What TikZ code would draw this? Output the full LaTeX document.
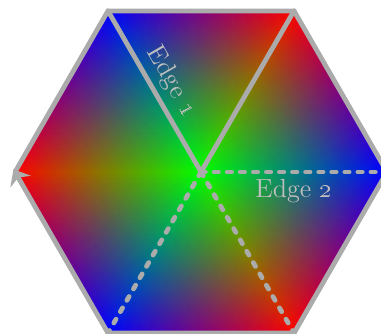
\documentclass[tikz,border=0pt]{standalone}
\usepackage{pgfplots}
\pgfplotsset{compat=1.18}
\usetikzlibrary{arrows.meta}

\begin{document}
\begin{tikzpicture}[line width=2.2pt,
    edge/.style={draw=gray!66, line cap=round},
    dashedge/.style={edge, dash pattern=on 2pt off 4pt},
    lbl/.style={text=gray!50, font=\large}]
  \useasboundingbox (-3.242,-2.597) rectangle (2.903,2.774);
  \coordinate (c) at (0,0);
  \foreach \a/\n in {0/r,60/tr,120/tl,180/l,240/bl,300/br}
    \coordinate (\n) at (\a:3);
  % colour fill, one triangle per sector
  \begin{axis}[anchor=origin, at={(0,0)}, x=1cm, y=1cm, hide axis,
      xmin=-3, xmax=3, ymin=-3, ymax=3, clip=false]
    \addplot[patch, shader=interp, mesh/color input=explicit,
        point meta=explicit symbolic] table[meta=c] {
x y c
0 0 rgb=0,1,0
3 0 rgb=0,0,1
1.5 2.598 rgb=1,0,0
0 0 rgb=0,1,0
1.5 2.598 rgb=1,0,0
-1.5 2.598 rgb=0,0,1
0 0 rgb=0,1,0
-1.5 2.598 rgb=0,0,1
-3 0 rgb=1,0,0
0 0 rgb=0,1,0
-3 0 rgb=1,0,0
-1.5 -2.598 rgb=0,0,1
0 0 rgb=0,1,0
-1.5 -2.598 rgb=0,0,1
1.5 -2.598 rgb=1,0,0
0 0 rgb=0,1,0
1.5 -2.598 rgb=1,0,0
3 0 rgb=0,0,1
};
  \end{axis}
  \draw[edge] (tl) -- (c) node[midway, sloped, above, lbl] {Edge \oldstylenums{1}};
  \draw[edge] (c) -- (tr);
  \draw[dashedge] (c) -- (r) node[midway, below, lbl] {Edge \oldstylenums{2}};
  \draw[dashedge] (c) -- (br);
  \draw[dashedge] (c) -- (bl);
  \draw[edge, line cap=butt, -{Stealth[length=3pt, width=5pt]}]
    (l) -- (tl) -- (tr) -- (r) -- (br) -- (bl) -- (l);
\end{tikzpicture}
\end{document}
